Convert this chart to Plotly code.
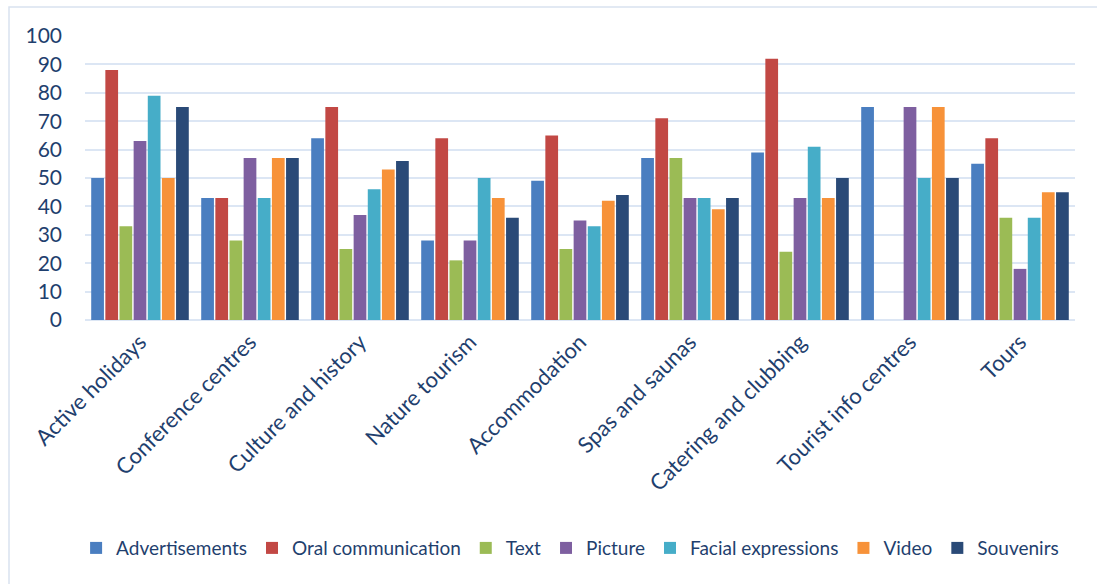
import plotly.graph_objects as go

categories = ["Active holidays", "Conference centres", "Culture and history", "Nature tourism",
              "Accommodation", "Spas and saunas", "Catering and clubbing", "Tourist info centres", "Tours"]

advertisements = [50, 43, 64, 28, 49, 57, 59, 75, 55]
oral_communication = [88, 43, 75, 64, 65, 71, 92, None, 64]
text = [33, 28, 25, 21, 25, 57, 24, None, 36]
picture = [63, 57, 37, 28, 35, 43, 43, 75, 18]
facial_expressions = [79, 43, 46, 50, 33, 43, 61, 50, 36]
video = [50, 57, 53, 43, 42, 39, 43, 75, 45]
souvenirs = [75, 57, 56, 36, 44, 43, 50, 50, 45]

series = [
    ("Advertisements", advertisements, "#4A7EC0"),
    ("Oral communication", oral_communication, "#C24844"),
    ("Text", text, "#9BBB55"),
    ("Picture", picture, "#7E5FA0"),
    ("Facial expressions", facial_expressions, "#46ADC8"),
    ("Video", video, "#F79239"),
    ("Souvenirs", souvenirs, "#2A4A77"),
]

FONT = "Lato"
TXT = "#1F3F6E"

fig = go.Figure()
for name, vals, col in series:
    fig.add_trace(go.Bar(name=name, x=categories, y=vals, marker=dict(color=col, line=dict(width=0))))

fig.update_layout(
    width=1097, height=584,
    margin=dict(l=85, r=22, t=36, b=264, autoexpand=False),
    paper_bgcolor="white", plot_bgcolor="white",
    barmode="group", bargap=0.1, bargroupgap=0.1,
    font=dict(family=FONT, color=TXT, size=20),
    legend=dict(orientation="h", x=0.49, xanchor="center", y=-0.803, yanchor="middle",
                font=dict(family=FONT, size=19, color=TXT), itemwidth=30, tracegroupgap=0,
                itemsizing="constant"),
    xaxis=dict(tickangle=-45, tickfont=dict(family=FONT, size=22, color=TXT), showgrid=False,
               showline=False, ticks="", ticklabelstandoff=4, automargin=False),
    yaxis=dict(range=[0, 100], dtick=10, showgrid=True, gridcolor="#DCE6F4", gridwidth=2,
               zeroline=True, zerolinecolor="#DCE6F4", zerolinewidth=2, showline=False,
               tickfont=dict(family=FONT, size=21, color=TXT), ticks="", ticklabelstandoff=22,
               automargin=False),
    shapes=[dict(type="rect", xref="paper", yref="paper",
                 x0=(9 - 85) / 990, x1=(1102 - 85) / 990,
                 y0=(320 - 590) / 284, y1=(320 - 7) / 284,
                 line=dict(color="#D9E2EF", width=1.5), fillcolor="rgba(0,0,0,0)", layer="below")],
)

fig.write_html("out.html")
